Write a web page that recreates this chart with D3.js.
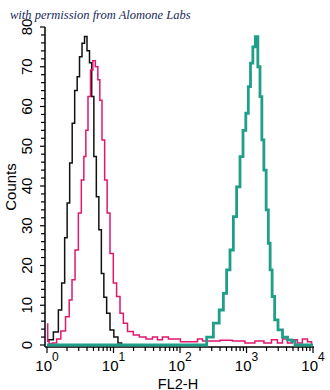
<!DOCTYPE html>
<html>
<head>
<meta charset="utf-8">
<script src="https://cdn.jsdelivr.net/npm/d3@7"></script>
<style>
  body { margin: 0; background: #fff; }
  svg text { font-family: "Liberation Sans Narrow", "Arial Narrow", "Liberation Sans", Arial, sans-serif; }
</style>
</head>
<body>
<div id="vis"></div>
<script>
// FL2-H intensity (linear) and counts for each histogram
var controlX = [1.0, 1.11, 1.40, 1.57, 1.76, 1.93, 2.09, 2.30, 2.49, 2.73, 2.96, 3.21, 3.52, 3.82, 4.18, 4.54, 4.87, 5.27, 5.78, 6.27, 6.88, 7.45, 8.35, 9.40, 10.9, 12.5, 14.0];
var controlY = [1.0, 1.3, 3.3, 8.8, 15.6, 27, 35.7, 45.8, 55.8, 64, 67.5, 72.5, 75.9, 77.6, 74, 71, 62.5, 47.4, 37.3, 29, 18, 12, 8, 3.8, 2, 0.5, 0];

var stainedX = [1.0, 1.05, 1.1, 1.32, 1.48, 1.76, 2.05, 2.27, 2.49, 2.80, 3.13, 3.44, 3.73, 3.95, 4.33, 4.70, 5.09, 5.59, 6.05, 6.42, 7.03, 7.71, 8.35, 9.40, 10.5, 11.8, 13.3, 14.9, 17.7, 22.3, 26.8, 35.4, 42, 50, 59, 76, 93, 111, 168, 200, 238, 336, 475, 798, 1125, 1590, 2100, 2680, 3170, 3800, 4500, 5370, 6330, 7560, 9020, 10000];
var stainedY = [5.3, 1, 0.3, 0.5, 1.5, 3.5, 7.1, 11.3, 16.4, 23.9, 33.2, 41.5, 47.4, 54, 62.5, 69.2, 71.5, 70, 66.7, 61.6, 51.6, 41.5, 33.2, 23, 15.6, 12.2, 8, 5.5, 3.4, 2.5, 2, 1.5, 2, 1.3, 2, 1.5, 1.5, 0.8, 0.8, 1.5, 1, 1, 1.2, 1, 0.5, 1.0, 0.5, 1.3, 0.5, 1.5, 0.5, 1.3, 0.5, 1.5, 0.8, 0];

var positiveX = [1, 224, 283, 356, 424, 475, 532, 599, 671, 753, 847, 927, 1028, 1102, 1197, 1297, 1422, 1541, 1651, 1753, 1897, 2056, 2203, 2334, 2529, 2780, 3191, 3793, 4508, 5058, 5688, 10000];
var positiveY = [0, 0, 2, 5.5, 8.8, 13, 18.9, 23.9, 32.3, 39.8, 47.4, 54, 58.3, 65, 70.9, 75, 77.6, 70, 62.5, 51.6, 44, 34, 25.6, 18.9, 12.2, 6.3, 3.8, 2, 1.3, 1, 0, 0];

var xDecades = [0, 1, 2, 3, 4];
var yLabels = [0, 10, 20, 30, 40, 50, 60, 70, 80];

var width = 330, height = 390;

var SVG = d3.select("#vis").append("svg")
    .attr("width", width)
    .attr("height", height);

var x = d3.scaleLog().domain([1, 10000]).range([47, 313]);
var y = d3.scaleLinear().domain([0, 80]).range([345, 27]);

// title
SVG.append("text")
    .attr("x", 10)
    .attr("y", 19)
    .style("font-family", "'Liberation Serif', 'DejaVu Serif', serif")
    .style("font-style", "italic")
    .style("font-size", "12.5px")
    .attr("fill", "#16285a")
    .text("with permission from Alomone Labs");

// y axis
var yTicks = d3.range(0, 81, 2);
var yAxis = SVG.append("g").attr("transform", "translate(45,0)");
yAxis.append("line")
    .attr("x1", 0).attr("x2", 0)
    .attr("y1", y(80)).attr("y2", y(0) + 2)
    .attr("stroke", "#000").attr("stroke-width", 1.5);
yTicks.forEach(function(t) {
    yAxis.append("line")
        .attr("x1", t % 10 == 0 ? -5 : -4).attr("x2", 0)
        .attr("y1", y(t)).attr("y2", y(t))
        .attr("stroke", "#000").attr("stroke-width", 1.2);
});
yLabels.forEach(function(t) {
    SVG.append("text")
        .attr("transform", "translate(32," + y(t) + ") rotate(-90)")
        .attr("text-anchor", "middle")
        .style("font-size", "15px")
        .text(t);
});
SVG.append("text")
    .attr("transform", "translate(15.5,187) rotate(-90)")
    .attr("text-anchor", "middle")
    .style("font-size", "15px")
    .text("Counts");

// x axis
var xAxisY = y(0) + 2;
var xAxis = SVG.append("g").attr("transform", "translate(0," + xAxisY + ")");
xAxis.append("line")
    .attr("x1", 45).attr("x2", x(10000) + 1)
    .attr("y1", 0).attr("y2", 0)
    .attr("stroke", "#000").attr("stroke-width", 1.5);
var xTicks = x.ticks();
xTicks.forEach(function(t) {
    var major = Math.abs(Math.log10(t) - Math.round(Math.log10(t))) < 1e-9;
    xAxis.append("line")
        .attr("x1", x(t)).attr("x2", x(t))
        .attr("y1", 0).attr("y2", major ? 6 : 4)
        .attr("stroke", "#000").attr("stroke-width", 1.2);
});
xDecades.forEach(function(d) {
    var lbl = SVG.append("text")
        .attr("x", x(Math.pow(10, d)))
        .attr("y", 371)
        .attr("text-anchor", "middle")
        .style("font-size", "15px");
    lbl.append("tspan").text("10");
    lbl.append("tspan").attr("dy", -10).style("font-size", "12px").text(d);
});
SVG.append("text")
    .attr("x", 178)
    .attr("y", 388.5)
    .attr("text-anchor", "middle")
    .style("font-size", "14.5px")
    .text("FL2-H");

// histograms
var line = d3.line()
    .curve(d3.curveStep)
    .x(function(d) { return x(d[0]); })
    .y(function(d) { return y(d[1]); });

var series = [
    {xs: controlX, ys: controlY, color: "#111111", w: 1.5},
    {xs: stainedX, ys: stainedY, color: "#e0186e", w: 1.5},
    {xs: positiveX, ys: positiveY, color: "#1f9e88", w: 2.8}
];

series.forEach(function(s) {
    var pts = s.xs.map(function(v, i) { return [v, s.ys[i]]; });
    SVG.append("path")
        .attr("d", line(pts))
        .attr("fill", "none")
        .attr("stroke", s.color)
        .attr("stroke-width", s.w);
});
</script>
</body>
</html>
